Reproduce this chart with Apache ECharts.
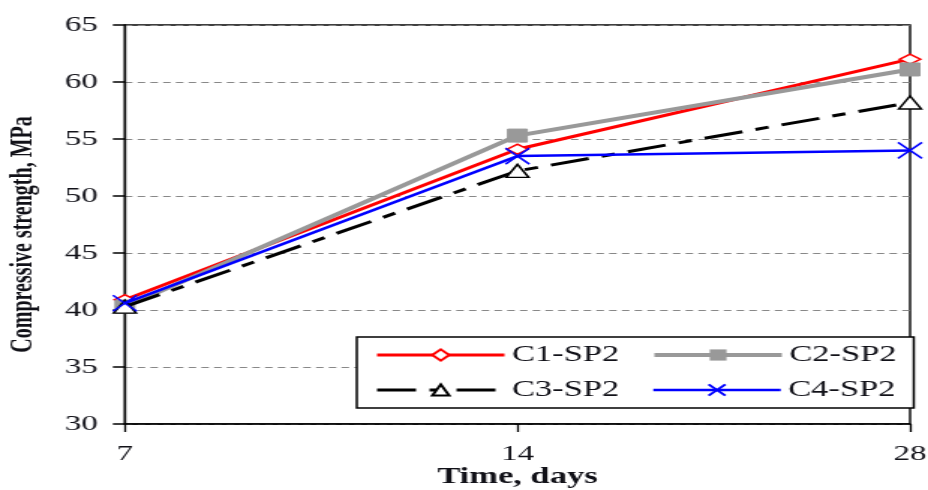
<!DOCTYPE html>
<html><head><meta charset="utf-8">
<script src="https://cdn.jsdelivr.net/npm/echarts@6/dist/echarts.min.js"></script>
<style>
html,body{margin:0;padding:0;background:#fff;overflow:hidden;width:928px;height:490px}
#wrap{width:928px;height:490px;overflow:hidden;position:relative}
#c{position:absolute;left:0;top:0;width:619px;height:490px;transform:scaleX(1.49919);transform-origin:0 0}
</style>
</head><body><div id="wrap"><div id="c"></div></div>
<script>
const categories = ['7', '14', '28'];
const c1 = [40.9, 54.1, 62.0];
const c2 = [40.3, 55.3, 61.1];
const c3 = [40.3, 52.2, 58.2];
const c4 = [40.6, 53.5, 54.0];
const seriesNames = ['C1-SP2', 'C2-SP2', 'C3-SP2', 'C4-SP2'];
const yMin = 30, yMax = 65, yStep = 5;

const font = 'Liberation Serif';
const txt = '#111118';
const chart = echarts.init(document.getElementById('c'), null, {renderer: 'canvas', width: 619, height: 490});
chart.setOption({
  animation: false,
  backgroundColor: '#fff',
  grid: {left: 83.3, right: 12, top: 25, bottom: 66, containLabel: false, outerBoundsMode: 'none',
         show: true, borderColor: '#000', borderWidth: 1.4, backgroundColor: 'transparent'},
  legend: {
    left: 238, top: 337, width: 362,
    padding: [6.5, 2, 6.5, 12],
    borderColor: '#000', borderWidth: 1.5, backgroundColor: '#fff',
    itemWidth: 85, itemHeight: 14, itemGap: 12,
    lineStyle: {width: 'inherit', type: 'inherit'},
    textStyle: {fontFamily: font, fontSize: 23, color: txt, width: 81, lineHeight: 23},
    data: seriesNames
  },
  xAxis: {
    type: 'category', data: categories, boundaryGap: false,
    axisLine: {lineStyle: {color: '#000', width: 1.5}},
    axisTick: {show: true, length: 8, inside: false, lineStyle: {color: '#000', width: 1.3}},
    axisLabel: {fontFamily: font, fontSize: 22, color: txt, margin: 19},
    name: 'Time, days', nameLocation: 'middle', nameGap: 42, nameMoveOverlap: false,
    nameTextStyle: {fontFamily: font, fontSize: 23, fontWeight: 'bold', color: txt}
  },
  yAxis: {
    type: 'value', min: yMin, max: yMax, interval: yStep,
    axisLine: {show: true, lineStyle: {color: '#000', width: 1.4}},
    axisTick: {show: true, length: 8, inside: false, lineStyle: {color: '#000', width: 1.5}},
    axisLabel: {fontFamily: font, fontSize: 22, color: txt, margin: 18},
    splitLine: {show: true, lineStyle: {color: '#888', type: [5, 3.5], width: 1.2}},
    name: 'Compressive strength, MPa', nameLocation: 'middle', nameGap: 57.5, nameMoveOverlap: false,
    nameTextStyle: {fontFamily: font, fontSize: 20, fontWeight: 'bold', color: txt, padding: [0, 20, 0, 0]}
  },
  series: [
    {name: seriesNames[0], type: 'line', data: c1, symbol: 'diamond', symbolSize: [14, 10],
     lineStyle: {color: '#ff0000', width: 3}, itemStyle: {color: '#fff', borderColor: '#ff0000', borderWidth: 1.5}, z: 2},
    {name: seriesNames[1], type: 'line', data: c2, symbol: 'rect', symbolSize: 13,
     lineStyle: {color: '#999999', width: 4}, itemStyle: {color: '#999999', borderColor: '#999999'}, z: 3},
    {name: seriesNames[2], type: 'line', data: c3, symbol: 'triangle', symbolSize: [15, 13],
     lineStyle: {color: '#000', width: 3, type: [26, 9, 9, 9]}, itemStyle: {color: '#fff', borderColor: '#000', borderWidth: 1.5}, z: 4},
    {name: seriesNames[3], type: 'line', data: c4, symbol: 'path://M0,0L10,10M10,0L0,10', symbolSize: [16, 16],
     lineStyle: {color: '#0000ff', width: 2.5}, itemStyle: {color: 'none', borderColor: '#0000ff', borderWidth: 1.5}, z: 5}
  ]
});
</script></body></html>
